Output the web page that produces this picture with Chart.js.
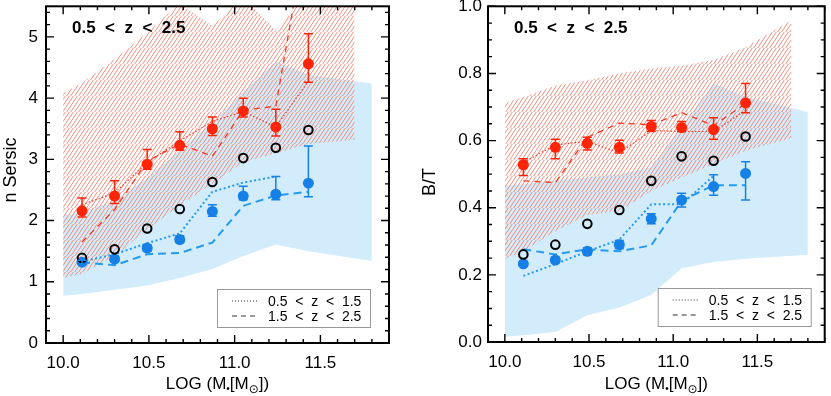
<!DOCTYPE html>
<html>
<head>
<meta charset="utf-8">
<title>n Sersic and B/T vs stellar mass</title>
<script src="https://cdn.jsdelivr.net/npm/chart.js@4.4.1/dist/chart.umd.min.js"></script>
<style>
  body { margin: 0; background: #fff; }
  #wrap { position: relative; width: 831px; height: 396px; }
  canvas { position: absolute; top: 0; }
</style>
</head>
<body>
<div id="wrap">
  <canvas id="sersic" width="415" height="396" style="left:0"></canvas>
  <canvas id="bulge" width="416" height="396" style="left:415px"></canvas>
</div>
<script>
const FONT = "'Liberation Sans', Arial, sans-serif";

// stellar mass bins (LOG M*)
const massBins = [10.11, 10.30, 10.49, 10.68, 10.87, 11.05, 11.24, 11.43];
const bandMassRed = [10.0, 10.11, 10.30, 10.49, 10.68, 10.87, 11.05, 11.24, 11.43, 11.7];
const bandMassBlue = [10.0, 10.11, 10.30, 10.49, 10.68, 10.87, 11.05, 11.24, 11.43, 11.8];
const xTicks = [10.0, 10.5, 11.0, 11.5];

// --- n Sersic panel ---
const nSersicTicks = [0, 1, 2, 3, 4, 5];
const nRed = [2.16, 2.40, 2.92, 3.23, 3.50, 3.79, 3.53, 4.56];
const nRedLo = [2.06, 2.28, 2.84, 3.15, 3.39, 3.69, 3.38, 4.26];
const nRedHi = [2.37, 2.65, 3.16, 3.45, 3.69, 4.00, 3.82, 5.05];
const nAll = [1.39, 1.53, 1.87, 2.19, 2.63, 3.02, 3.19, 3.48];
const nBlue = [1.32, 1.37, 1.55, 1.69, 2.15, 2.40, 2.43, 2.61];
const nBlueLo = [1.29, 1.33, 1.50, 1.64, 2.07, 2.34, 2.34, 2.39];
const nBlueHi = [1.35, 1.42, 1.60, 1.75, 2.26, 2.56, 2.72, 3.22];
const nRedLowZ = [2.26, 2.45, 2.95, 3.30, 3.62, 3.78, 3.53, 4.28];
const nRedHighZ = [1.65, 2.18, 2.97, 3.25, 3.05, 3.80, 3.87, 6.9];
const nBlueLowZ = [1.33, 1.45, 1.63, 1.79, 2.47, 2.62, 2.72, null];
const nBlueHighZ = [1.32, 1.27, 1.45, 1.47, 1.64, 2.24, 2.41, 2.47];
const nRedBandHi = [4.08, 4.25, 4.64, 5.07, 5.55, 5.18, 5.65, 5.10, 5.8, 5.8];
const nRedBandLo = [1.06, 1.13, 1.42, 1.85, 2.25, 2.60, 2.95, 3.10, 3.25, 3.32];
const nBlueBandHi = [2.08, 2.15, 2.32, 2.70, 3.15, 3.60, 4.10, 4.60, 4.38, 4.24];
const nBlueBandLo = [0.77, 0.80, 0.87, 0.94, 1.06, 1.21, 1.42, 1.61, 1.50, 1.34];

// --- B/T panel ---
const btTicks = [0.0, 0.2, 0.4, 0.6, 0.8, 1.0];
const btRed = [0.528, 0.580, 0.592, 0.580, 0.642, 0.639, 0.633, 0.712];
const btRedLo = [0.496, 0.546, 0.572, 0.563, 0.627, 0.627, 0.604, 0.683];
const btRedHi = [0.546, 0.604, 0.610, 0.601, 0.660, 0.657, 0.668, 0.770];
const btAll = [0.261, 0.290, 0.352, 0.393, 0.480, 0.553, 0.540, 0.612];
const btBlue = [0.233, 0.244, 0.270, 0.290, 0.367, 0.423, 0.463, 0.502];
const btBlueLo = [0.226, 0.236, 0.260, 0.278, 0.352, 0.402, 0.437, 0.423];
const btBlueHi = [0.240, 0.252, 0.281, 0.302, 0.382, 0.443, 0.498, 0.537];
const btRedLowZ = [0.535, 0.587, 0.598, 0.563, 0.630, 0.627, 0.627, 0.690];
const btRedHighZ = [0.480, 0.475, 0.610, 0.652, 0.647, 0.683, 0.645, 0.710];
const btBlueLowZ = [0.197, 0.232, 0.270, 0.305, 0.410, 0.410, 0.495, null];
const btBlueHighZ = [0.276, 0.261, 0.276, 0.270, 0.288, 0.420, 0.467, 0.467];
const btRedBandHi = [0.712, 0.730, 0.763, 0.780, 0.800, 0.815, 0.823, 0.840, 0.878, 0.958];
const btRedBandLo = [0.247, 0.270, 0.330, 0.378, 0.390, 0.450, 0.490, 0.530, 0.570, 0.607];
const btBlueBandHi = [0.466, 0.470, 0.480, 0.490, 0.500, 0.520, 0.640, 0.770, 0.730, 0.685];
const btBlueBandLo = [0.016, 0.020, 0.030, 0.080, 0.103, 0.140, 0.220, 0.238, 0.248, 0.260];

const RED = "rgb(255,36,8)";
const BLUE = "rgb(22,128,230)";
const RED_LINE = "rgb(246,58,38)";
const BLUE_LINE = "rgb(36,155,240)";
const BLUE_FILL = "rgb(210,236,251)";
const HATCH = "rgb(246,140,124)";

function pts(xs, ys) {
  return xs.map((x, i) => ({ x: x, y: ys[i] }));
}

// diagonal hatch tile, period 4 px, drawn on a 16 px tile
function hatch(target) {
  const s = 16, step = 4;
  const c = document.createElement("canvas");
  c.width = s;
  c.height = s;
  const g = c.getContext("2d");
  g.strokeStyle = HATCH;
  g.lineWidth = 1;
  g.beginPath();
  for (let o = -s; o <= 2 * s; o += step) {
    g.moveTo(o - s, s + s); g.lineTo(o + s, 0 - s);
  }
  g.stroke();
  return target.getContext("2d").createPattern(c, "repeat");
}

function massLabel(ctx, cx, base) {
  const parts = [
    ["LOG (M", "17px " + FONT, 0],
    ["\u2022", "10px " + FONT, 3],
    ["[M", "17px " + FONT, 0],
    ["\u2299", "12px 'DejaVu Sans', " + FONT, 4],
    ["])", "17px " + FONT, 0],
  ];
  ctx.textAlign = "left";
  ctx.textBaseline = "alphabetic";
  let w = 0;
  parts.forEach((p) => { ctx.font = p[1]; w += ctx.measureText(p[0]).width; });
  let x = cx - w / 2;
  parts.forEach((p) => {
    ctx.font = p[1];
    ctx.fillText(p[0], x, base + p[2]);
    x += ctx.measureText(p[0]).width;
  });
}

function decor(cfg) {
  return {
    id: "decor",
    afterDatasetsDraw(chart) {
      const { ctx, chartArea: a, scales: { x, y } } = chart;
      ctx.save();

      // error bars
      cfg.errors.forEach((e) => {
        ctx.strokeStyle = e.color;
        ctx.lineWidth = 1.5;
        massBins.forEach((m, i) => {
          const px = x.getPixelForValue(m);
          const y1 = y.getPixelForValue(e.lo[i]);
          const y2 = y.getPixelForValue(e.hi[i]);
          ctx.beginPath();
          ctx.moveTo(px, y1); ctx.lineTo(px, y2);
          ctx.moveTo(px - 4.5, y1); ctx.lineTo(px + 4.5, y1);
          ctx.moveTo(px - 4.5, y2); ctx.lineTo(px + 4.5, y2);
          ctx.stroke();
        });
      });

      // inward ticks on all four sides
      ctx.strokeStyle = "#000";
      ctx.lineWidth = 1.4;
      ctx.beginPath();
      for (let k = 99; k <= 119; k++) {
        const v = k / 10;
        const len = k % 5 === 0 ? 8 : 4;
        const px = x.getPixelForValue(v);
        ctx.moveTo(px, a.bottom); ctx.lineTo(px, a.bottom - len);
        ctx.moveTo(px, a.top); ctx.lineTo(px, a.top + len);
      }
      for (let k = 0; k <= cfg.minorCount; k++) {
        const v = k * cfg.minorStep;
        if (v > y.max + 1e-9) break;
        const len = k % cfg.minorPerMajor === 0 ? 8 : 4;
        const py = y.getPixelForValue(v);
        ctx.moveTo(a.left, py); ctx.lineTo(a.left + len, py);
        ctx.moveTo(a.right, py); ctx.lineTo(a.right - len, py);
      }
      ctx.stroke();

      // frame
      ctx.lineWidth = 2;
      ctx.strokeRect(a.left, a.top, a.right - a.left, a.bottom - a.top);

      // redshift label
      ctx.fillStyle = "#000";
      ctx.font = "bold 17px " + FONT;
      ctx.textAlign = "left";
      ctx.textBaseline = "alphabetic";
      ctx.fillText("0.5  <  z  <  2.5", a.left + 26, 33);

      // legend
      const bl = a.right - cfg.legendRight - 153, bt = a.bottom - 54;
      ctx.strokeStyle = "#999";
      ctx.lineWidth = 1;
      ctx.strokeRect(bl + 0.5, bt + 0.5, 153, 38);
      ctx.strokeStyle = "#333";
      ctx.font = "14px " + FONT;
      ctx.textBaseline = "middle";
      [[[1, 2], "0.5  <  z  <  1.5", 12], [[5, 4], "1.5  <  z  <  2.5", 27]].forEach((r) => {
        ctx.setLineDash(r[0]);
        ctx.beginPath();
        ctx.moveTo(bl + 15, bt + r[2]); ctx.lineTo(bl + 41, bt + r[2]);
        ctx.stroke();
        ctx.fillText(r[1], bl + 51, bt + r[2] + 1);
      });
      ctx.setLineDash([]);

      // axis titles
      massLabel(ctx, (a.left + a.right) / 2, 389);
      ctx.save();
      ctx.translate(cfg.yTitleX, cfg.yTitleY);
      ctx.rotate(-Math.PI / 2);
      ctx.font = "18px " + FONT;
      ctx.textAlign = "center";
      ctx.textBaseline = "middle";
      ctx.fillText(cfg.yTitle, 0, 0);
      ctx.restore();

      ctx.restore();
    },
  };
}

function band(xs, lo, hi, fillColor, order) {
  return [
    { data: pts(xs, lo), borderColor: "rgba(0,0,0,0)", borderWidth: 1, pointRadius: 0, fill: false, order: order + 1 },
    { data: pts(xs, hi), borderColor: "rgba(0,0,0,0)", borderWidth: 1, pointRadius: 0, fill: "-1", backgroundColor: fillColor, order: order },
  ];
}

function trend(ys, color, width, dash) {
  return { data: pts(massBins, ys), borderColor: color, borderWidth: width, borderDash: dash, pointRadius: 0, fill: false, spanGaps: false, order: 10 };
}

function markers(ys, fill, border, radius, bw) {
  return { data: pts(massBins, ys), showLine: false, pointRadius: radius, pointBackgroundColor: fill, pointBorderColor: border, pointBorderWidth: bw, order: 1 };
}

function makePanel(id, p) {
  const canvas = document.getElementById(id);
  const hatchFill = hatch(canvas);
  new Chart(canvas, {
    type: "line",
    data: {
      datasets: [
        ...band(bandMassBlue, p.blueBandLo, p.blueBandHi, BLUE_FILL, 30),
        ...band(bandMassRed, p.redBandLo, p.redBandHi, hatchFill, 20),
        trend(p.redLowZ, RED_LINE, 1.2, [1.5, 2]),
        trend(p.redHighZ, RED_LINE, 1.3, [6, 5]),
        trend(p.blueLowZ, BLUE_LINE, 2, [2, 2.5]),
        trend(p.blueHighZ, BLUE_LINE, 2, [8, 5]),
        markers(p.all, "rgba(0,0,0,0)", "#000", 4.3, 2),
        markers(p.red, RED, RED, 5.5, 0),
        markers(p.blue, BLUE, BLUE, 5.5, 0),
      ],
    },
    options: {
      responsive: false,
      animation: false,
      layout: { padding: { left: 0, right: p.padRight, top: p.padTop, bottom: 0 } },
      plugins: { legend: { display: false }, tooltip: { enabled: false } },
      scales: {
        x: {
          type: "linear",
          min: 9.9,
          max: 11.9,
          afterBuildTicks: (s) => { s.ticks = xTicks.map((v) => ({ value: v })); },
          afterFit: (s) => { s.height = p.xHeight; s.paddingLeft = 0; s.paddingRight = 0; },
          grid: { display: false, drawTicks: false },
          border: { display: false },
          ticks: { color: "#000", font: { family: FONT, size: 17 }, padding: 10, maxRotation: 0, autoSkip: false, callback: (v) => v.toFixed(1) },
        },
        y: {
          type: "linear",
          min: p.ymin,
          max: p.ymax,
          afterBuildTicks: (s) => { s.ticks = p.yTicks.map((v) => ({ value: v })); },
          afterFit: (s) => { s.width = p.yWidth; s.paddingTop = 0; s.paddingBottom = 0; },
          grid: { display: false, drawTicks: false },
          border: { display: false },
          ticks: { color: "#000", font: { family: FONT, size: 17 }, padding: p.yPad, autoSkip: false, callback: (v) => v.toFixed(p.yDigits) },
        },
      },
    },
    plugins: [decor(p.decor)],
  });
}

makePanel("sersic", {
  red: nRed, all: nAll, blue: nBlue,
  redLowZ: nRedLowZ, redHighZ: nRedHighZ, blueLowZ: nBlueLowZ, blueHighZ: nBlueHighZ,
  redBandLo: nRedBandLo, redBandHi: nRedBandHi, blueBandLo: nBlueBandLo, blueBandHi: nBlueBandHi,
  ymin: 0, ymax: 5.5, yTicks: nSersicTicks, yDigits: 0,
  padRight: 26, padTop: 2, xHeight: 53, yWidth: 46, yPad: 8,
  decor: {
    errors: [{ lo: nRedLo, hi: nRedHi, color: RED }, { lo: nBlueLo, hi: nBlueHi, color: BLUE }],
    minorStep: 0.2, minorCount: 27, minorPerMajor: 5,
    legendRight: 19, yTitle: "n Sersic", yTitleX: 11, yTitleY: 170,
  },
});

makePanel("bulge", {
  red: btRed, all: btAll, blue: btBlue,
  redLowZ: btRedLowZ, redHighZ: btRedHighZ, blueLowZ: btBlueLowZ, blueHighZ: btBlueHighZ,
  redBandLo: btRedBandLo, redBandHi: btRedBandHi, blueBandLo: btBlueBandLo, blueBandHi: btBlueBandHi,
  ymin: 0, ymax: 1.0, yTicks: btTicks, yDigits: 1,
  padRight: 4, padTop: 1, xHeight: 54, yWidth: 73, yPad: 6,
  decor: {
    errors: [{ lo: btRedLo, hi: btRedHi, color: RED }, { lo: btBlueLo, hi: btBlueHi, color: BLUE }],
    minorStep: 0.05, minorCount: 20, minorPerMajor: 4,
    legendRight: 14, yTitle: "B/T", yTitleX: 15, yTitleY: 182,
  },
});
</script>
</body>
</html>
